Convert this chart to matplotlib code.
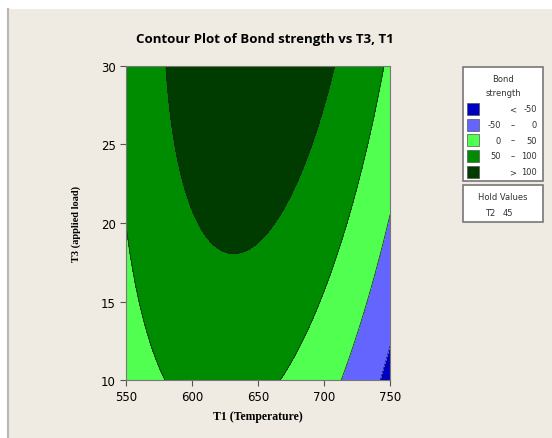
import numpy as np
import matplotlib.pyplot as plt
from matplotlib.patches import Rectangle

# fitted response surface (T2 held at 45), coded units:
# u = (T1 - 650) / 100, v = (T3 - 20) / 10
coef_names = ['const', 'u', 'v', 'u2', 'v2', 'uv']
coef_values = [104.7, -26.5, 36.6, -81.0, -8.5, 17.0]

t1_range = [550, 750]
t3_range = [10, 30]
levels = [-50, 0, 50, 100]
level_labels = [('<', '', '-50'), ('-50', '–', '0'), ('0', '–', '50'),
                ('50', '–', '100'), ('>', '', '100')]
colors = ['#0000c0', '#6464ff', '#50ff50', '#008c00', '#003c00']
hold_name = 'T2'
hold_value = 45

bg = '#efebe2'
fig = plt.figure(figsize=(5.52, 4.39), dpi=100, facecolor='white')
fig.patches.append(Rectangle((8 / 552, 0), 1, 1 - 10 / 439, transform=fig.transFigure,
                             facecolor=bg, edgecolor='none', zorder=-10))
fig.lines.append(plt.Line2D([8 / 552, 8 / 552], [0, 1 - 10 / 439], transform=fig.transFigure,
                            color='#b8b8b8', lw=1.5))

ax = fig.add_axes([0.2283, 0.1321, 0.4783, 0.7153])
t1 = np.linspace(t1_range[0], t1_range[1], 400)
t3 = np.linspace(t3_range[0], t3_range[1], 400)
X, Y = np.meshgrid(t1, t3)
U = (X - 650) / 100
V = (Y - 20) / 10
c = dict(zip(coef_names, coef_values))
Z = (c['const'] + c['u'] * U + c['v'] * V + c['u2'] * U**2
     + c['v2'] * V**2 + c['uv'] * U * V)

ax.contourf(X, Y, Z, levels=[-1e9] + levels + [1e9], colors=colors)
ax.contour(X, Y, Z, levels=levels, colors='#202020', linewidths=0.5)

ax.set_xlim(t1_range)
ax.set_ylim(t3_range)
ax.set_xticks(range(550, 751, 50))
ax.set_yticks(range(10, 31, 5))
ax.tick_params(direction='out', length=4, width=0.8, labelsize=8.5, color='#555555')
for s in ax.spines.values():
    s.set_color('#777777')
    s.set_linewidth(0.8)
ax.set_xlabel('T1 (Temperature)', family='Liberation Serif', weight='bold', fontsize=8.5, labelpad=5)
ax.set_ylabel('T3 (applied load)', family='Liberation Serif', weight='bold', fontsize=7.5, labelpad=14)

fig.text(265 / 552, 1 - 40 / 439, 'Contour Plot of Bond strength vs T3, T1', ha='center', va='center',
         family='Open Sans', weight='bold', fontsize=9.5)

# legend box
def px(x, y):
    return x / 552, 1 - y / 439

x0, y0 = px(463, 182)
x1, y1 = px(543, 68)
fig.patches.append(Rectangle((x0, y0), x1 - x0, y1 - y0, transform=fig.transFigure,
                             facecolor='white', edgecolor='#777777', lw=1.2))
fig.text(*px(503, 80), 'Bond', ha='center', va='center', fontsize=6, color='#333333')
fig.text(*px(503, 94), 'strength', ha='center', va='center', fontsize=6, color='#333333')
rows = [110, 126, 141, 157, 173]
for i, (yy, col, (a, d, b)) in enumerate(zip(rows, colors, level_labels)):
    sx, sy = px(467, yy + 6)
    fig.patches.append(Rectangle((sx, sy), 12 / 552, 12 / 439, transform=fig.transFigure,
                                 facecolor=col, edgecolor='#555555', lw=0.5))
    if d:
        fig.text(*px(501, yy), a, ha='right', va='center', fontsize=6, color='#333333')
        fig.text(*px(513, yy), d, ha='center', va='center', fontsize=6, color='#333333')
    else:
        fig.text(*px(513, yy), a, ha='center', va='center', fontsize=6, color='#333333')
    fig.text(*px(537, yy), b, ha='right', va='center', fontsize=6, color='#333333')

x0, y0 = px(463, 223)
x1, y1 = px(543, 186)
fig.patches.append(Rectangle((x0, y0), x1 - x0, y1 - y0, transform=fig.transFigure,
                             facecolor='white', edgecolor='#777777', lw=1.2))
fig.text(*px(503, 198), 'Hold Values', ha='center', va='center', fontsize=6, color='#333333')
fig.text(*px(495, 214), hold_name, ha='right', va='center', fontsize=6, color='#333333')
fig.text(*px(503, 214), str(hold_value), ha='left', va='center', fontsize=6, color='#333333')

fig.savefig('out.png', dpi=100)
